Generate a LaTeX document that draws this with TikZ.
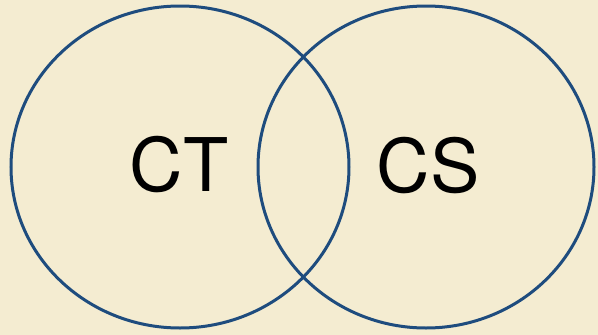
\documentclass[tikz,border=0pt]{standalone}
\usepackage{fontspec}
\setmainfont{TeX Gyre Heros}
\definecolor{bg}{HTML}{F4ECD1}
\definecolor{ring}{HTML}{1E4C7E}
\begin{document}
\begin{tikzpicture}[x=1pt,y=-1pt,
  ringstyle/.style={draw=ring,line width=3pt},
  lbl/.style={font=\fontsize{74}{80}\selectfont,text=black,inner sep=0pt}]
\fill[bg] (0,0) rectangle (598,335);
\useasboundingbox (0,0) rectangle (598,335);
\draw[ringstyle] (180,167) ellipse [x radius=169, y radius=161];
\draw[ringstyle] (426,167) ellipse [x radius=168, y radius=161];
\node[lbl] (ct) at (179,165) {CT};
\node[lbl] (cs) at (428,166) {CS};
\end{tikzpicture}
\end{document}
